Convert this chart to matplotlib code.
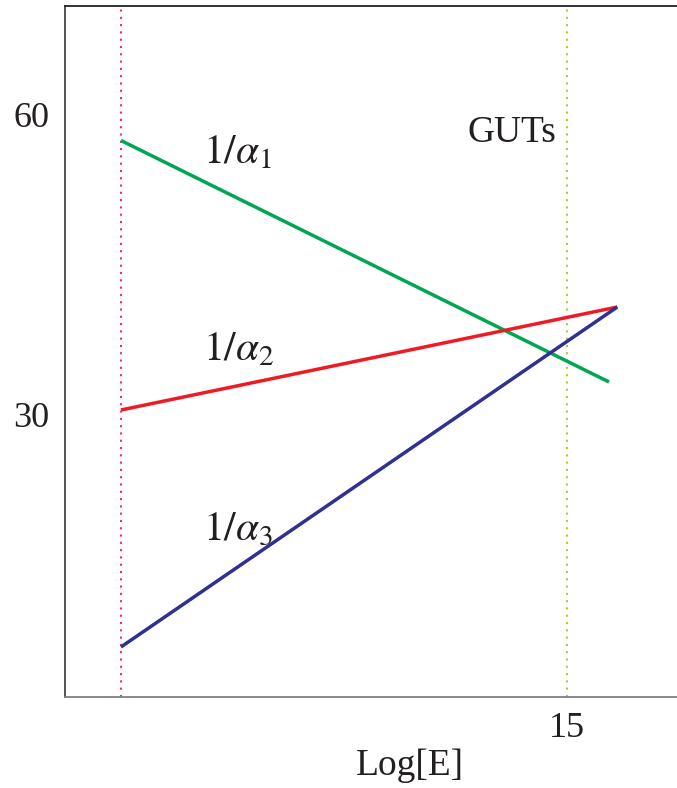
import numpy as np
import matplotlib
matplotlib.use("Agg")
import matplotlib.pyplot as plt

plt.rcParams['font.family'] = ['Liberation Serif', 'DejaVu Serif']
plt.rcParams['mathtext.fontset'] = 'stix'

# inverse gauge couplings vs Log[E] (straight lines)
log_e_low = 2.0
log_e_gut = 15.0
x_alpha1 = [2.0, 16.22]
inv_alpha1 = [57.4, 33.25]
x_alpha23 = [2.0, 16.46]
inv_alpha2 = [30.45, 40.75]
inv_alpha3 = [6.75, 40.75]

line_labels = [r'$1/\alpha_1$', r'$1/\alpha_2$', r'$1/\alpha_3$']
y_ticks = [30, 60]
x_ticks = [15]

fig = plt.figure(figsize=(6.77, 7.88), dpi=100)
ax = fig.add_axes([65 / 677, 1 - 697 / 788, 1 - 65 / 677, (697 - 6) / 788])

# vertical markers: low scale and GUT scale
ax.axvline(log_e_low, color='#ee2a7b', lw=1.5, ls=(0, (1, 2.5)))
ax.axvline(log_e_gut, color='#a6ce39', lw=1.5, ls=(0, (1, 2.5)))

ax.plot(x_alpha1, inv_alpha1, color='#00a651', lw=2.5, solid_capstyle='butt')
ax.plot(x_alpha23, inv_alpha2, color='#ed1c24', lw=2.5, solid_capstyle='butt')
ax.plot(x_alpha23, inv_alpha3, color='#2e3192', lw=2.5, solid_capstyle='butt')

# labels next to the lines
for lab, (tx, ty) in zip(line_labels, [(4.4, 55.15), (4.4, 35.45), (4.4, 17.45)]):
    ax.text(tx, ty, lab, fontsize=30, va='baseline', ha='left', color='#231f20')
ax.text(12.11, 57.25, 'GUTs', fontsize=27, va='baseline', ha='left', color='#231f20')

ax.set_xlim(0.37, 18.2)
ax.set_ylim(1.75, 70.85)
ax.set_xticks(x_ticks)
ax.set_yticks(y_ticks)
ax.tick_params(length=0, labelsize=26, labelcolor='#231f20')
ax.tick_params(axis='y', pad=11)
ax.tick_params(axis='x', pad=11)

ax.set_xlabel('Log[E]', fontsize=27, color='#231f20')
ax.xaxis.set_label_coords((410 - 65) / 612, -0.074)

ax.spines['right'].set_visible(False)
ax.spines['top'].set_color('#222222')
ax.spines['left'].set_color('#444444')
ax.spines['bottom'].set_color('#808080')
for s in ['top', 'left', 'bottom']:
    ax.spines[s].set_linewidth(1.3)

fig.savefig('out.png', dpi=100)
